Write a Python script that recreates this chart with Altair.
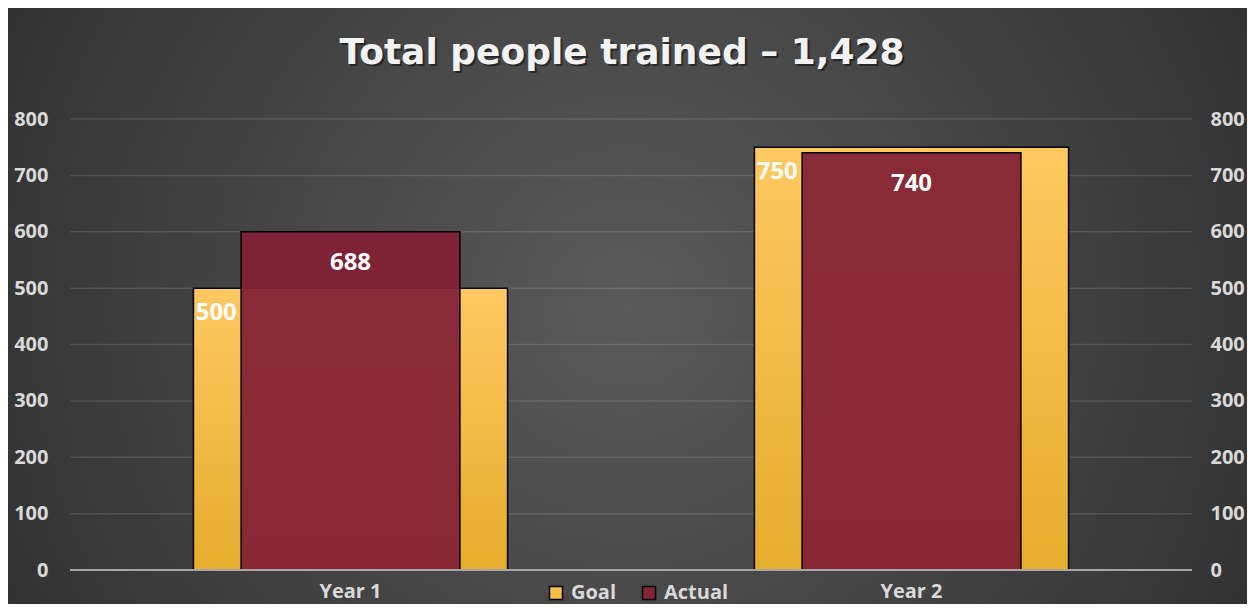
import altair as alt
import pandas as pd

# ---- data ----
years = ["Year 1", "Year 2"]
goal = [500, 750]
actual = [600, 740]          # bar heights as drawn
actual_labels = [688, 740]   # labels as shown
series = ["Goal", "Actual"]
grid_ticks = [100, 200, 300, 400, 500, 600, 700, 800]
title_text = "Total people trained \u2013 1,428"

W, H = 1122, 451
PAD = {"left": 62, "top": 111, "right": 55, "bottom": 34}
FONT = "Open Sans"

df = pd.DataFrame({"year": years, "goal": goal, "actual": actual, "alabel": actual_labels})
one = pd.DataFrame({"a": [0]})

yscale = alt.Scale(domain=[0, 800], nice=False, zero=True)
xscale = alt.Scale(domain=years, paddingInner=0, paddingOuter=0)
xaxis = alt.Axis(title=None, labelFont=FONT, labelFontWeight="bold", labelFontSize=20,
                 labelColor="#d9d9d9", labelPadding=11, labelAngle=0,
                 labelBaseline="top", labelAlign="center", domain=False, ticks=False,
                 grid=False, zindex=2)


def X(bp=None):
    if bp is None:
        return alt.X("year:N", scale=xscale, axis=xaxis, sort=years)
    return alt.X("year:N", scale=xscale, axis=xaxis, sort=years, bandPosition=bp)


def yaxis(orient):
    return alt.Axis(orient=orient, title=None, labelFont=FONT, labelFontWeight="bold",
                    labelFontSize=20, labelColor="#d9d9d9",
                    labelPadding=22 if orient == "left" else 18,
                    domain=False, ticks=False, grid=False, values=[0] + grid_ticks,
                    labelAlign="right" if orient == "left" else "left", zindex=2)


bg = alt.Chart(one).mark_rect(
    fill=alt.RadialGradient(
        gradient="radial", x1=0.5, y1=0.5, x2=0.5, y2=0.5, r1=0, r2=0.72,
        stops=[alt.GradientStop(offset=0, color="#5a5a5a"),
               alt.GradientStop(offset=1, color="#262626")])
).encode(x=alt.value(-PAD["left"]), x2=alt.value(W + PAD["right"]),
         y=alt.value(-PAD["top"]), y2=alt.value(H + PAD["bottom"]))

grid = alt.Chart(pd.DataFrame({"v": grid_ticks})).mark_rule(
    color="#ffffff", opacity=0.12, strokeWidth=1.5
).encode(y=alt.Y("v:Q", scale=yscale, axis=None))

goal_bars = alt.Chart(df).mark_bar(
    width={"band": 0.56},
    fill=alt.LinearGradient(gradient="linear", x1=0, x2=0, y1=0, y2=1,
                            stops=[alt.GradientStop(offset=0, color="#ffc862"),
                                   alt.GradientStop(offset=1, color="#e6ac2c")]),
    stroke="black", strokeWidth=1.5
).encode(x=X(), y=alt.Y("goal:Q", scale=yscale, axis=yaxis("left")))

actual_bars = alt.Chart(df).mark_bar(
    width={"band": 0.39}, fill="#822035", fillOpacity=0.94,
    stroke="black", strokeWidth=1.5
).encode(x=X(), y=alt.Y("actual:Q", scale=yscale, axis=yaxis("right")))

zero = alt.Chart(one).mark_rule(color="#a6a6a6", strokeWidth=2).encode(
    y=alt.Y("a:Q", scale=yscale, axis=None))

goal_text = alt.Chart(df).mark_text(
    align="left", baseline="middle", dy=25, font=FONT, fontWeight="bold",
    fontSize=24, color="white"
).encode(x=X(0.224), y=alt.Y("goal:Q", scale=yscale, axis=None), text="goal:Q")

actual_text = alt.Chart(df).mark_text(
    align="center", baseline="middle", dy=31, font=FONT, fontWeight="bold",
    fontSize=24, color="white"
).encode(x=X(), y=alt.Y("actual:Q", scale=yscale, axis=None), text="alabel:Q")

legend_layer = alt.Chart(pd.DataFrame({"series": series})).mark_square(opacity=0).encode(
    color=alt.Color("series:N", sort=series,
                    scale=alt.Scale(domain=series, range=["#fbbf45", "#862437"]),
                    legend=alt.Legend(title=None, orient="none", legendX=476, legendY=464,
                                      direction="horizontal", symbolType="square",
                                      symbolSize=169, symbolStrokeColor="black",
                                      symbolStrokeWidth=1.5, symbolOpacity=1,
                                      labelFont=FONT, labelFontWeight="bold",
                                      labelFontSize=20, labelColor="#d9d9d9",
                                      labelOffset=5, columnPadding=22, zindex=2))
)

title_shadow = alt.Chart(one).mark_text(
    text=title_text, font="DejaVu Sans", fontWeight="bold", fontSize=36,
    color="#000000", opacity=0.45, align="center", baseline="middle"
).encode(x=alt.value(W / 2 - 7), y=alt.value(-64))

title = alt.Chart(one).mark_text(
    text=title_text, font="DejaVu Sans", fontWeight="bold", fontSize=36,
    color="#f2f2f2", align="center", baseline="middle"
).encode(x=alt.value(W / 2 - 9), y=alt.value(-66))

chart = alt.layer(
    bg, grid, goal_bars, actual_bars, zero, goal_text, actual_text,
    legend_layer, title_shadow, title
).resolve_axis(y="independent").properties(
    width=W, height=H, padding=PAD, autosize="none", background="#333333"
).configure_view(stroke=None)

chart.save("out.html", embed_options={"renderer": "svg", "actions": False})
